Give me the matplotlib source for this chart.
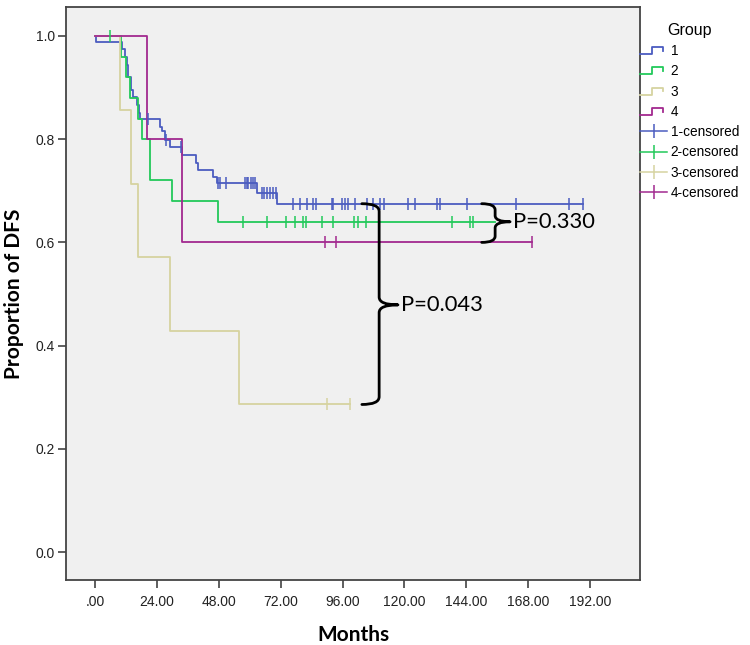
import numpy as np
import matplotlib
matplotlib.use("Agg")
import matplotlib.pyplot as plt
from matplotlib.lines import Line2D
from matplotlib.path import Path
from matplotlib.patches import PathPatch
from matplotlib.legend_handler import HandlerBase

# Kaplan-Meier steps: event times (months) and survival after each
g1_t = [0, 0.3, 10.3, 11.6, 12.3, 12.9, 13.8, 14.6, 16.4, 17.2, 17.5, 25.2, 25.9, 27.2,
        29.1, 33.6, 39.2, 40.1, 45.9, 47.2, 62.7, 70.5]
g1_s = [1.0, 0.988, 0.974, 0.960, 0.944, 0.921, 0.895, 0.881, 0.866, 0.850, 0.839, 0.824,
        0.815, 0.798, 0.785, 0.769, 0.753, 0.740, 0.727, 0.715, 0.696, 0.675]
g1_end = 189.2
g1_cens = [20.6, 27.5, 33.2, 47.6, 48.5, 50.7, 58.2, 58.8, 59.5, 60.4, 61.2, 62.1,
           64.7, 65.6, 66.6, 67.9, 69.2, 70.2, 76.9, 79.5, 82.1, 84.6, 85.7, 91.8, 92.4,
           95.7, 97.0, 98.2, 100.8, 105.4, 108.0, 110.6, 111.9, 121.5, 124.1, 132.5,
           133.8, 144.2, 163.3, 184.0, 189.2]

g2_t = [0, 10.0, 12.0, 13.5, 16.5, 18.1, 21.1, 29.7, 47.6]
g2_s = [1.0, 0.96, 0.92, 0.88, 0.84, 0.80, 0.72, 0.68, 0.64]
g2_end = 155.0
g2_cens = [5.8, 57.3, 66.6, 74.1, 77.6, 80.7, 81.9, 88.1, 92.3, 100.5, 102.1, 105.2,
           138.5, 145.5, 146.8]

g3_t = [0, 9.7, 13.8, 16.5, 29.0, 56.0]
g3_s = [1.0, 0.857, 0.714, 0.571, 0.429, 0.286]
g3_end = 99.0
g3_cens = [90.0, 99.0]

g4_t = [0, 20.2, 33.8]
g4_s = [1.0, 0.8, 0.6]
g4_end = 169.4
g4_cens = [89.2, 93.5, 169.4]

groups = ["1", "2", "3", "4"]
colors = ["#4b5cc0", "#22c95a", "#d6d3a0", "#a2298f"]

x_ticks = [0, 24, 48, 72, 96, 120, 144, 168, 192]
x_labels = [".00", "24.00", "48.00", "72.00", "96.00", "120.00", "144.00", "168.00", "192.00"]
y_ticks = [0.0, 0.2, 0.4, 0.6, 0.8, 1.0]

p_labels = ["P=0.330", "P=0.043"]

tick_font = "Liberation Sans"
label_font = "Lato"


def km_level(t, s, x):
    i = np.searchsorted(t, x, side="right") - 1
    return np.asarray(s)[i]


class StepHandler(HandlerBase):
    def create_artists(self, legend, orig, xd, yd, width, height, fontsize, trans):
        x0, y0 = -xd, -yd
        xs = [x0, x0 + 0.45 * width, x0 + 0.45 * width, x0 + 0.85 * width, x0 + 0.85 * width]
        ys = [y0 + 0.1 * height, y0 + 0.1 * height, y0 + 0.85 * height,
              y0 + 0.85 * height, y0 + 0.45 * height]
        ln = Line2D(xs, ys, color=orig.get_color(), lw=orig.get_linewidth(), transform=trans)
        return [ln]


def brace(ax, xl, xm, xt, yt, yb, ytip, ry):
    verts = [(xl, yt), (xm, yt), (xm, yt - ry),
             (xm, ytip + ry), (xm, ytip), (xt, ytip),
             (xm, ytip), (xm, ytip - ry),
             (xm, yb + ry), (xm, yb), (xl, yb)]
    codes = [Path.MOVETO, Path.CURVE3, Path.CURVE3,
             Path.LINETO, Path.CURVE3, Path.CURVE3,
             Path.CURVE3, Path.CURVE3,
             Path.LINETO, Path.CURVE3, Path.CURVE3]
    ax.add_patch(PathPatch(Path(verts, codes), fill=False, lw=2.0, color="black",
                           capstyle="round", joinstyle="round", zorder=6))


fig = plt.figure(figsize=(7.5, 6.45), dpi=100)
ax = fig.add_axes([0.088, 0.1008, 0.7653, 0.8883])
ax.set_facecolor("#f0f0f0")

data = [(g1_t, g1_s, g1_end, g1_cens), (g2_t, g2_s, g2_end, g2_cens),
        (g3_t, g3_s, g3_end, g3_cens), (g4_t, g4_s, g4_end, g4_cens)]

for (t, s, end, cens), c in zip(data, colors):
    ax.step(list(t) + [end], list(s) + [s[-1]], where="post", color=c, lw=1.3, zorder=3)
    ax.plot(cens, km_level(t, s, cens), ls="none", marker="|", ms=8, mew=1.1,
            color=c, zorder=4)

ax.set_xlim(-11.3, 211.4)
ax.set_ylim(-0.054, 1.056)
ax.set_xticks(x_ticks)
ax.set_xticklabels(x_labels)
ax.set_yticks(y_ticks)
ax.set_yticklabels([f"{v:.1f}" for v in y_ticks])
for lab in ax.get_xticklabels() + ax.get_yticklabels():
    lab.set_family(tick_font)
    lab.set_fontsize(10)
    lab.set_color("#222222")
ax.tick_params(direction="out", length=6, width=1.1, color="#333333")
ax.tick_params(axis="x", pad=5)
ax.tick_params(axis="y", pad=2)
for sp in ax.spines.values():
    sp.set_color("#444444")
    sp.set_linewidth(1.3)

ax.set_xlabel("Months", family=label_font, fontweight="bold", fontsize=15, labelpad=11)
ax.set_ylabel("Proportion of DFS", family=label_font, fontweight="bold", fontsize=15,
              labelpad=8)

# p-value braces
brace(ax, 150.0, 155.2, 161.0, g1_s[-1], g4_s[-1], g2_s[-1], 0.012)
ax.text(162.3, g2_s[-1], p_labels[0], family=label_font, fontsize=15.8, va="center",
        ha="left", zorder=7)
brace(ax, 103.5, 110.2, 117.5, g1_s[-1], g3_s[-1], 0.479, 0.015)
ax.text(118.8, 0.479, p_labels[1], family=label_font, fontsize=15.8, va="center",
        ha="left", zorder=7)

# legend
step_h = [Line2D([], [], color=c, lw=1.3) for c in colors]
cens_h = [Line2D([], [], color=c, lw=1.1, marker="|", ms=10, mew=1.1) for c in colors]
hmap = {h: StepHandler() for h in step_h}
leg = fig.legend(step_h + cens_h, groups + [g + "-censored" for g in groups],
                 handler_map=hmap, loc="upper left", bbox_to_anchor=(0.846, 0.973),
                 frameon=False, title="Group", handlelength=2.0, handletextpad=0.25,
                 labelspacing=0.46, numpoints=1, borderaxespad=0.0,
                 prop={"family": tick_font, "size": 9.8},
                 title_fontproperties={"family": tick_font, "size": 11.5})
leg._legend_box.align = "center"

fig.savefig("out.png", dpi=100, facecolor="white")
